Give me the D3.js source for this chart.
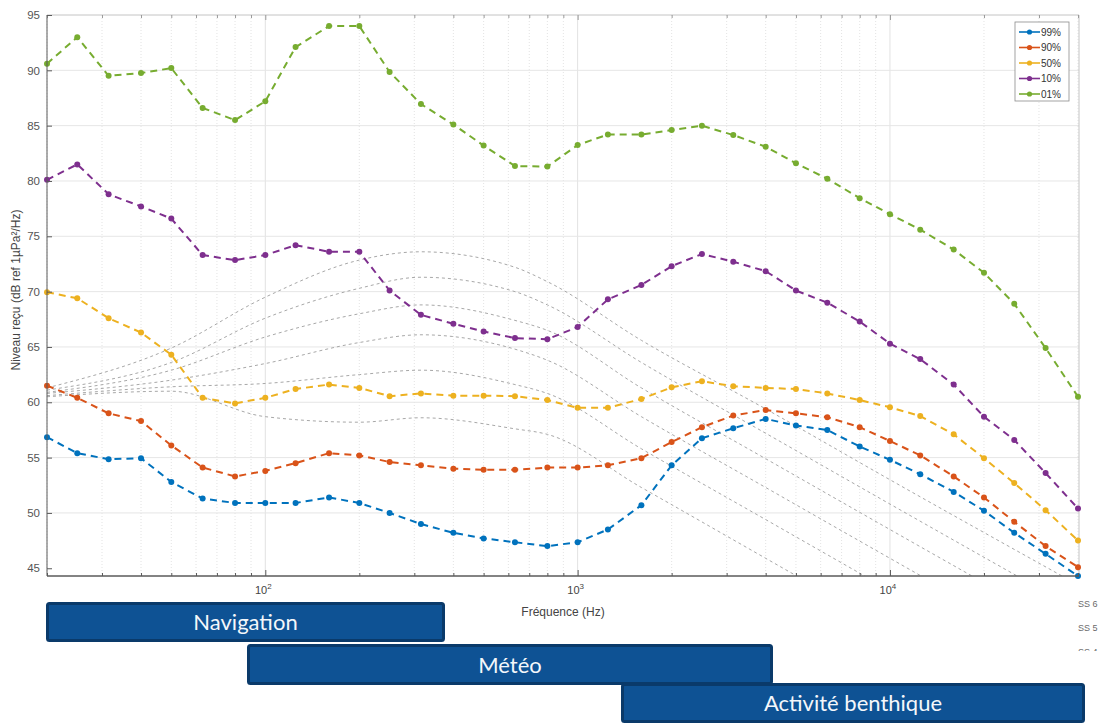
<!DOCTYPE html>
<html>
<head>
<meta charset="utf-8">
<script src="https://cdn.jsdelivr.net/npm/d3@7"></script>
<style>
  html, body { margin: 0; padding: 0; background: #ffffff; }
  svg { display: block; }
</style>
</head>
<body>
<svg id="chart" width="1106" height="724"></svg>
<script>
// Third-octave band centre frequencies (Hz)
const freqs = [20, 25, 31.5, 40, 50, 63, 80, 100, 125, 160, 200, 250, 315, 400, 500, 630, 800,
  1000, 1250, 1600, 2000, 2500, 3150, 4000, 5000, 6300, 8000, 10000, 12500, 16000, 20000,
  25000, 31500, 40000];

// Percentile levels, dB ref 1µPa²/Hz
const p99 = [56.85, 55.4, 54.85, 54.95, 52.8, 51.3, 50.9, 50.9, 50.9, 51.4, 50.9, 50.0, 49.0, 48.2,
  47.7, 47.35, 47.0, 47.35, 48.5, 50.7, 54.3, 56.75, 57.65, 58.5, 57.9, 57.5, 56.0, 54.8, 53.5,
  51.9, 50.2, 48.2, 46.3, 44.3];
const p90 = [61.5, 60.4, 59.0, 58.3, 56.1, 54.1, 53.3, 53.8, 54.5, 55.4, 55.2, 54.6, 54.3, 54.0,
  53.9, 53.9, 54.1, 54.1, 54.3, 54.95, 56.4, 57.75, 58.8, 59.3, 59.0, 58.65, 57.75, 56.5, 55.2,
  53.3, 51.4, 49.2, 47.0, 45.1];
const p50 = [69.95, 69.4, 67.6, 66.3, 64.3, 60.4, 59.9, 60.4, 61.2, 61.6, 61.3, 60.55, 60.8, 60.6,
  60.6, 60.55, 60.2, 59.5, 59.5, 60.3, 61.35, 61.9, 61.45, 61.3, 61.2, 60.8, 60.2, 59.55, 58.75,
  57.1, 54.95, 52.7, 50.25, 47.5];
const p10 = [80.1, 81.5, 78.8, 77.7, 76.6, 73.3, 72.85, 73.3, 74.2, 73.6, 73.6, 70.1, 67.9, 67.1,
  66.4, 65.8, 65.7, 66.8, 69.3, 70.6, 72.3, 73.4, 72.7, 71.85, 70.1, 69.0, 67.3, 65.3, 63.9,
  61.6, 58.7, 56.6, 53.6, 50.4];
const p01 = [90.6, 93.0, 89.5, 89.75, 90.2, 86.6, 85.5, 87.2, 92.1, 94.0, 94.0, 89.85, 86.95, 85.1,
  83.2, 81.35, 81.3, 83.25, 84.2, 84.2, 84.6, 85.0, 84.15, 83.1, 81.6, 80.2, 78.45, 77.0, 75.6,
  73.8, 71.7, 68.9, 64.9, 60.5];

const seriesNames = ["99%", "90%", "50%", "10%", "01%"];
const seriesColors = ["#0072BD", "#D95319", "#EDB120", "#7E2F8E", "#77AC30"];

// Sea-state reference spectra, read at a few frequencies
const ssFreqs = [20, 50, 100, 200, 315, 630, 800, 1600, 4000, 10000, 40000];
const ssNames = ["SS 6", "SS 5", "SS 4"];
const ss6 = [61.3, 64.9, 69.5, 72.85, 73.6, 72.2, 70.9, 65.6, 59.4, 53.0, 43.5];
const ss5 = [61.1, 63.6, 67.6, 70.3, 71.3, 70.0, 68.8, 63.6, 57.2, 50.8, 41.2];
const ss4 = [60.9, 62.9, 65.9, 68.0, 68.8, 67.4, 66.5, 61.3, 54.9, 48.5, 38.9];
const ss3 = [60.8, 62.0, 63.5, 65.4, 66.1, 64.8, 63.8, 58.7, 52.3, 45.9, 36.3];
const ss2 = [60.6, 61.4, 61.7, 62.5, 62.9, 61.6, 60.8, 55.8, 49.4, 43.0, 33.4];
const ss1 = [60.5, 61.0, 58.7, 58.2, 58.6, 57.6, 57.1, 52.3, 45.9, 39.5, 29.9];

const yTicks = [45, 50, 55, 60, 65, 70, 75, 80, 85, 90, 95];
const xMajor = [100, 1000, 10000];
const xMajorExp = ["2", "3", "4"];

// Bands of dominant noise sources
const bandNames = ["Navigation", "Météo", "Activité benthique"];

const svg = d3.select("#chart");
const L = 47, R = 1079, T = 15, B = 576;

const x = d3.scaleLog().domain([20, 40000]).range([L, 1078]);
const y = d3.scaleLinear().domain([44.3, 95]).range([B, T]);

const FONT = "'Liberation Sans', Arial, sans-serif";

const defs = svg.append("defs");
defs.append("clipPath").attr("id", "plotClip")
  .append("rect").attr("x", L).attr("y", T).attr("width", R - L).attr("height", B - T);

// minor log frequencies within the axis range
const minor = [];
for (let d = 10; d <= 10000; d *= 10) {
  for (let k = 2; k <= 9; k++) {
    const f = k * d;
    if (f >= 20 && f <= 40000) minor.push(f);
  }
}

// grid
const grid = svg.append("g");
grid.selectAll("line.mg").data(minor).join("line")
  .attr("x1", d => x(d)).attr("x2", d => x(d)).attr("y1", T).attr("y2", B)
  .attr("stroke", "#dcdcdc").attr("stroke-width", 0.8).attr("stroke-dasharray", "1,2");
grid.selectAll("line.vg").data(xMajor).join("line")
  .attr("x1", d => x(d)).attr("x2", d => x(d)).attr("y1", T).attr("y2", B)
  .attr("stroke", "#e2e2e2").attr("stroke-width", 1);
grid.selectAll("line.hg").data(yTicks.filter(v => v > 45 && v < 95)).join("line")
  .attr("x1", L).attr("x2", R).attr("y1", d => y(d)).attr("y2", d => y(d))
  .attr("stroke", "#e6e6e6").attr("stroke-width", 1);

// box top / right
svg.append("line").attr("x1", L).attr("x2", R).attr("y1", T).attr("y2", T)
  .attr("stroke", "#c4c4c4").attr("stroke-width", 1);
svg.append("line").attr("x1", R).attr("x2", R).attr("y1", T).attr("y2", B)
  .attr("stroke", "#c4c4c4").attr("stroke-width", 1);

// top ticks
const topG = svg.append("g").attr("transform", `translate(0,${T})`);
topG.call(d3.axisTop(x).tickValues(xMajor).tickSize(-5).tickFormat(""));
topG.append("g").call(d3.axisTop(x).tickValues(minor).tickSize(-3).tickFormat(""));
topG.selectAll(".domain").remove();
topG.selectAll("line").attr("stroke", "#9a9a9a");

// sea-state curves
const ssSets = [ss6, ss5, ss4, ss3, ss2, ss1];
const ssLine = d3.line().x(d => x(d[0])).y(d => y(d[1])).curve(d3.curveMonotoneX);
const ssG = svg.append("g").attr("clip-path", "url(#plotClip)");
ssSets.forEach(vals => {
  ssG.append("path")
    .attr("d", ssLine(ssFreqs.map((f, i) => [f, vals[i]])))
    .attr("fill", "none").attr("stroke", "#a8a8a8").attr("stroke-width", 1)
    .attr("stroke-dasharray", "3,3");
});

// percentile series
const allSeries = [p99, p90, p50, p10, p01];
const line = d3.line().x(d => x(d[0])).y(d => y(d[1]));
const sG = svg.append("g");
allSeries.forEach((vals, si) => {
  const pts = freqs.map((f, i) => [f, vals[i]]);
  sG.append("path").attr("d", line(pts))
    .attr("fill", "none").attr("stroke", seriesColors[si]).attr("stroke-width", 2)
    .attr("stroke-dasharray", "7,5");
  sG.selectAll(null).data(pts).join("circle")
    .attr("cx", d => x(d[0])).attr("cy", d => y(d[1])).attr("r", 3)
    .attr("fill", seriesColors[si]);
});

// bottom axis
const bx = svg.append("g").attr("transform", `translate(0,${B})`);
bx.call(d3.axisBottom(x).tickValues(xMajor).tickSize(-6).tickFormat(""));
bx.append("g").call(d3.axisBottom(x).tickValues(minor).tickSize(-3).tickFormat(""));
bx.selectAll(".domain").attr("d", `M${L},0H${R}`);
bx.selectAll("path, line").attr("stroke", "#5a5a5a");

const xl = svg.append("g");
xMajor.forEach((f, i) => {
  const t = xl.append("text").attr("x", x(f) - 2).attr("y", 594)
    .attr("text-anchor", "middle").attr("font-family", FONT).attr("font-size", 11)
    .attr("fill", "#444");
  t.append("tspan").text("10");
  t.append("tspan").attr("dy", -5).attr("font-size", 8).text(xMajorExp[i]);
});
svg.append("text").attr("x", 563).attr("y", 616).attr("text-anchor", "middle")
  .attr("font-family", FONT).attr("font-size", 12).attr("fill", "#444")
  .text("Fréquence (Hz)");

// left axis
const ly = svg.append("g").attr("transform", `translate(${L},0)`);
ly.call(d3.axisLeft(y).tickValues(yTicks).tickSize(-5).tickPadding(7).tickFormat(d3.format("d")));
ly.selectAll(".domain").attr("d", `M0,${T}V${B}`);
ly.selectAll("path, line").attr("stroke", "#5a5a5a");
ly.selectAll("text").attr("font-family", FONT).attr("font-size", 11.5).attr("fill", "#555");

svg.append("text")
  .attr("transform", "translate(20,290) rotate(-90)")
  .attr("text-anchor", "middle").attr("font-family", FONT).attr("font-size", 12)
  .attr("fill", "#444").text("Niveau reçu (dB ref 1µPa²/Hz)");

// legend
const lg = svg.append("g");
lg.append("rect").attr("x", 1015).attr("y", 22).attr("width", 54).attr("height", 79)
  .attr("fill", "#fff").attr("stroke", "#8c8c8c").attr("stroke-width", 0.8);
seriesNames.forEach((n, i) => {
  const yy = 32 + i * 15.5;
  lg.append("line").attr("x1", 1019).attr("x2", 1040).attr("y1", yy).attr("y2", yy)
    .attr("stroke", seriesColors[i]).attr("stroke-width", 1.6);
  lg.append("circle").attr("cx", 1029.5).attr("cy", yy).attr("r", 2.6).attr("fill", seriesColors[i]);
  lg.append("text").attr("x", 1041).attr("y", yy + 3.5).attr("font-family", FONT)
    .attr("font-size", 10).attr("fill", "#333").text(n);
});

// sea-state labels beside the axes (the lowest one is cut by the band strip)
defs.append("clipPath").attr("id", "ssLabClip")
  .append("rect").attr("x", 1070).attr("y", 590).attr("width", 40).attr("height", 61);
const ssl = svg.append("g").attr("clip-path", "url(#ssLabClip)");
ssNames.forEach((n, i) => {
  ssl.append("text").attr("x", 1078).attr("y", 607 + i * 24).attr("font-family", FONT)
    .attr("font-size", 9).attr("fill", "#6a6a6a").text(n);
});

// source bands
const bandTop = [602, 644, 683];
const bandBottom = [642, 685, 723];
const bandLeft = [46, 247, 621];
const bandRight = [445, 773, 1085];
const bg = svg.append("g");
bandNames.forEach((n, i) => {
  bg.append("rect")
    .attr("x", bandLeft[i] + 1.5).attr("y", bandTop[i] + 1.5)
    .attr("width", bandRight[i] - bandLeft[i] - 3).attr("height", bandBottom[i] - bandTop[i] - 3)
    .attr("rx", 2).attr("fill", "#0e5294").attr("stroke", "#0a3a6a").attr("stroke-width", 3);
  bg.append("text")
    .attr("x", (bandLeft[i] + bandRight[i]) / 2).attr("y", (bandTop[i] + bandBottom[i]) / 2 + 8)
    .attr("text-anchor", "middle").attr("font-family", "Lato, 'Open Sans', sans-serif")
    .attr("font-size", 22).attr("fill", "#f4f7fb").text(n);
});
</script>
</body>
</html>
